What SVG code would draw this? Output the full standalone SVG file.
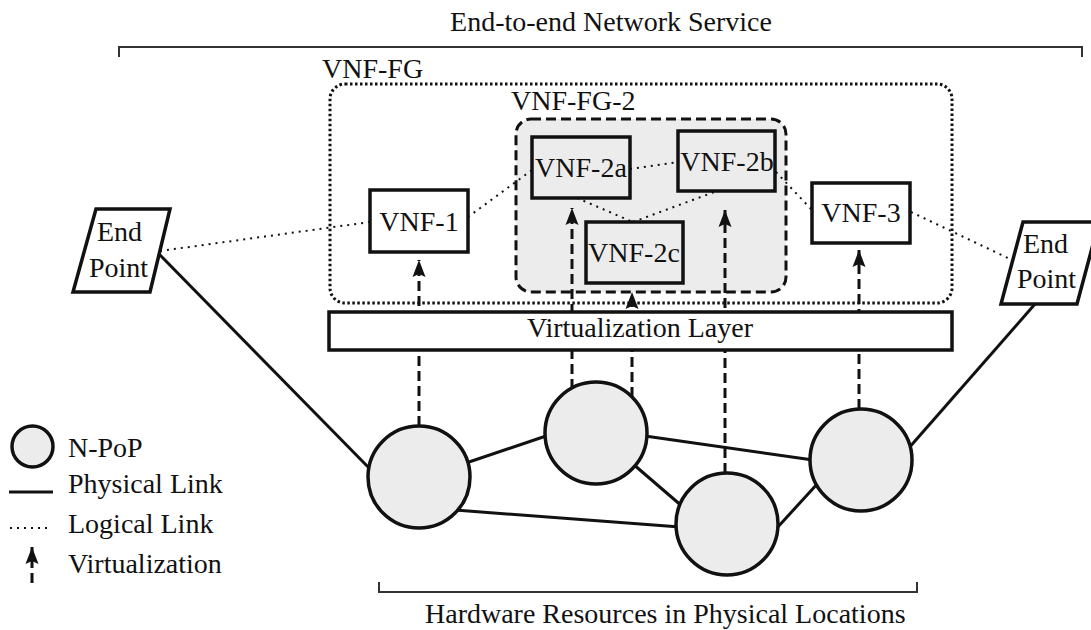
<svg xmlns="http://www.w3.org/2000/svg" width="1091" height="630" viewBox="0 0 1091 630">
  <style>
    text { font-family: "Liberation Serif", "Times New Roman", serif; font-size: 28px; fill: #111; }
    .mid { text-anchor: middle; }
    .box { fill: #fff; stroke: #111; stroke-width: 3.5; }
    .gbox { fill: #ececec; stroke: #111; stroke-width: 3.5; }
    .npop { fill: #ececec; stroke: #111; stroke-width: 3.5; }
    .phys { stroke: #111; stroke-width: 3; fill: none; }
    .logi { stroke: #111; stroke-width: 2; stroke-dasharray: 2 5; fill: none; }
    .virt { stroke: #111; stroke-width: 3; stroke-dasharray: 10 5; fill: none; marker-end: url(#head); }
    .bracket { stroke: #333; stroke-width: 2; fill: none; }
  </style>
  <defs>
    <marker id="head" markerUnits="userSpaceOnUse" markerWidth="20" markerHeight="16" viewBox="-18 -8 20 16" refX="0" refY="0" orient="auto">
      <path d="M0,0 L-17,6.5 L-14,0 L-17,-6.5 Z" fill="#111"/>
    </marker>
  </defs>

  <!-- scope brackets -->
  <g id="service-scope">
    <text class="mid" x="611" y="31">End-to-end Network Service</text>
    <path class="bracket" d="M119,57 V47 H1082 V57"/>
  </g>
  <g id="hardware-scope">
    <path class="bracket" d="M379,582 V592 H917 V582"/>
    <text x="425" y="623">Hardware Resources in Physical Locations</text>
  </g>

  <!-- forwarding graph containers -->
  <g id="vnf-fg">
    <rect x="330" y="84" width="622" height="219" rx="15" fill="none" stroke="#111" stroke-width="3" stroke-dasharray="2.5 2.5"/>
    <text x="322" y="78">VNF-FG</text>
  </g>
  <g id="vnf-fg-2">
    <rect x="516" y="119" width="270" height="173" rx="15" fill="#ececec" stroke="#111" stroke-width="3" stroke-dasharray="10 5"/>
    <text x="511" y="110">VNF-FG-2</text>
  </g>

  <!-- connectors -->
  <g id="connectors">
    <!-- physical links -->
    <line class="phys" x1="159" y1="254" x2="372" y2="471"/>
    <line class="phys" x1="1035" y1="304" x2="908" y2="449"/>
    <line class="phys" x1="466" y1="463" x2="549" y2="435"/>
    <line class="phys" x1="645" y1="436" x2="813" y2="460"/>
    <line class="phys" x1="633" y1="464" x2="683" y2="507"/>
    <line class="phys" x1="455" y1="510" x2="680" y2="527"/>
    <line class="phys" x1="776" y1="529" x2="819" y2="482"/>
    <!-- logical links -->
    <line class="logi" x1="160" y1="251" x2="370" y2="222"/>
    <line class="logi" x1="468" y1="217" x2="532" y2="170"/>
    <line class="logi" x1="630" y1="169" x2="678" y2="162"/>
    <line class="logi" x1="577" y1="198" x2="633" y2="222"/>
    <line class="logi" x1="633" y1="222" x2="717" y2="191"/>
    <line class="logi" x1="776" y1="172" x2="812" y2="210"/>
    <line class="logi" x1="911" y1="212" x2="1010" y2="259"/>
    <!-- virtualization -->
    <line class="virt" x1="419" y1="426" x2="419" y2="260"/>
    <line class="virt" x1="572" y1="389" x2="572" y2="208"/>
    <line class="virt" x1="632" y1="397" x2="632" y2="292"/>
    <line class="virt" x1="725" y1="473" x2="725" y2="210"/>
    <line class="virt" x1="859" y1="409" x2="859" y2="250"/>
  </g>

  <g id="virtualization-layer">
    <rect class="box" x="329" y="312" width="623" height="38"/>
    <text class="mid" x="640" y="337">Virtualization Layer</text>
  </g>

  <!-- VNF nodes -->
  <g id="vnf-1">
    <rect class="box" x="370" y="190" width="98" height="62"/>
    <text class="mid" x="419" y="231">VNF-1</text>
  </g>
  <g id="vnf-2a">
    <rect class="gbox" x="532" y="137" width="98" height="61"/>
    <text class="mid" x="581" y="177">VNF-2a</text>
  </g>
  <g id="vnf-2b">
    <rect class="gbox" x="678" y="131" width="97" height="60"/>
    <text class="mid" x="727" y="171">VNF-2b</text>
  </g>
  <g id="vnf-2c">
    <rect class="gbox" x="586" y="222" width="97" height="61"/>
    <text class="mid" x="634" y="262">VNF-2c</text>
  </g>
  <g id="vnf-3">
    <rect class="box" x="812" y="183" width="98" height="60"/>
    <text class="mid" x="861" y="222">VNF-3</text>
  </g>

  <!-- end points -->
  <g id="end-point-left">
    <polygon class="box" points="96,209 170,209 150,292 73,292"/>
    <text x="97" y="241">End</text>
    <text x="89" y="277">Point</text>
  </g>
  <g id="end-point-right">
    <polygon class="box" points="1023,222 1099,222 1077,304 1001,304"/>
    <text x="1023" y="253">End</text>
    <text x="1017" y="288">Point</text>
  </g>

  <!-- N-PoPs -->
  <g id="npop-1"><circle class="npop" cx="419" cy="477" r="51"/></g>
  <g id="npop-2"><circle class="npop" cx="596" cy="433" r="51"/></g>
  <g id="npop-3"><circle class="npop" cx="727" cy="524" r="51"/></g>
  <g id="npop-4"><circle class="npop" cx="861" cy="460" r="51"/></g>

  <!-- legend -->
  <g id="legend">
    <circle class="npop" cx="32.5" cy="446.5" r="20.5"/>
    <text x="68" y="457">N-PoP</text>
    <line class="phys" x1="9" y1="492" x2="53" y2="492"/>
    <text x="68" y="493">Physical Link</text>
    <line class="logi" x1="10" y1="528" x2="52" y2="528" stroke-width="1.5"/>
    <text x="68" y="533">Logical Link</text>
    <line class="virt" x1="32" y1="583" x2="32" y2="547"/>
    <text x="68" y="573">Virtualization</text>
  </g>
</svg>
